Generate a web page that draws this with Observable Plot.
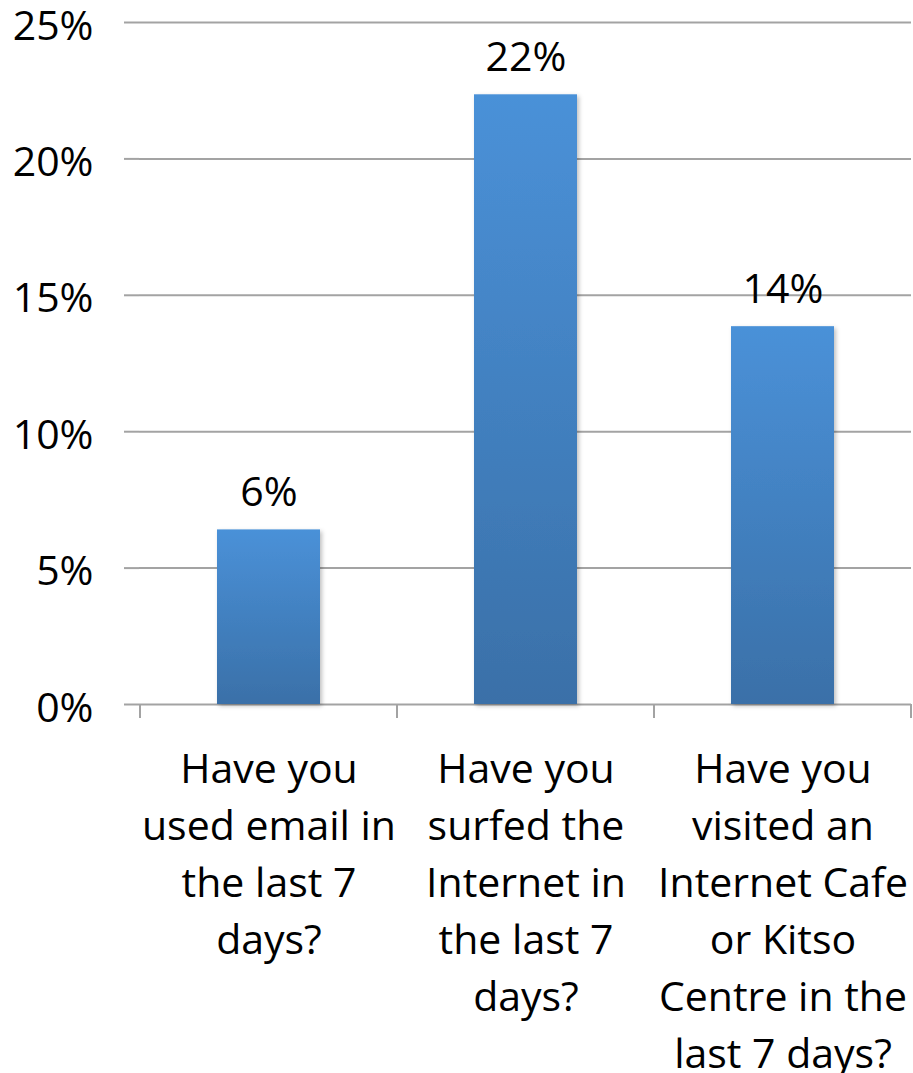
<!DOCTYPE html>
<html>
<head>
<meta charset="utf-8">
<script src="https://cdn.jsdelivr.net/npm/d3@7"></script>
<script src="https://cdn.jsdelivr.net/npm/@observablehq/plot@0.6"></script>
<style>
  html, body { margin: 0; padding: 0; background: #fff; }
  #chart { width: 913px; height: 1073px; }
</style>
</head>
<body>
<div id="chart"></div>
<script>
const categories = [
  "Have you used email in the last 7 days?",
  "Have you surfed the Internet in the last 7 days?",
  "Have you visited an Internet Cafe or Kitso Centre in the last 7 days?"
];
const tickLabels = [
  "Have you\nused email in\nthe last 7\ndays?",
  "Have you\nsurfed the\nInternet in\nthe last 7\ndays?",
  "Have you\nvisited an\nInternet Cafe\nor Kitso\nCentre in the\nlast 7 days?"
];
const values = [6.4, 22.35, 13.85];
const valueLabels = ["6%", "22%", "14%"];
const yTicks = [0, 5, 10, 15, 20, 25];

const data = categories.map((c, i) => ({category: c, value: values[i], label: valueLabels[i]}));

const GRID = "#a3a3a3";

const defs = () => {
  const d = d3.create("svg:defs");
  const g = d.append("linearGradient").attr("id", "barGrad").attr("x1", 0).attr("y1", 0).attr("x2", 0).attr("y2", 1);
  g.append("stop").attr("offset", "0%").attr("stop-color", "#4a91d8");
  g.append("stop").attr("offset", "100%").attr("stop-color", "#3a70a8");
  const f = d.append("filter").attr("id", "barShadow").attr("x", "-10%").attr("y", "-10%").attr("width", "130%").attr("height", "130%");
  f.append("feDropShadow").attr("dx", 2).attr("dy", 2).attr("stdDeviation", 2).attr("flood-color", "#000").attr("flood-opacity", 0.25);
  return d.node();
};

const bandTicks = (index, scales, values, dims) => {
  const x = scales.x;
  const bw = x.bandwidth ? x.bandwidth() : (dims.width - dims.marginLeft - dims.marginRight) / categories.length;
  const edges = categories.map(c => x(c)).concat([x(categories[categories.length - 1]) + bw]);
  const y0 = scales.y(0);
  const g = d3.create("svg:g").attr("stroke", GRID).attr("stroke-width", 2);
  g.selectAll("line").data(edges).join("line")
    .attr("x1", d => d).attr("x2", d => d)
    .attr("y1", y0).attr("y2", y0 + 14);
  return g.node();
};

const chart = Plot.plot({
  width: 913,
  height: 1073,
  marginTop: 22,
  marginLeft: 139,
  marginRight: 2,
  marginBottom: 369,
  style: {fontFamily: "'Open Sans', sans-serif", fontSize: "41px", background: "#fff", color: "#000"},
  x: {domain: categories, padding: 0, label: null},
  y: {domain: [0, 25], label: null},
  marks: [
    defs,
    Plot.gridY(yTicks, {stroke: GRID, strokeWidth: 2, strokeOpacity: 1}),
    Plot.axisY(yTicks, {
      tickFormat: () => "",
      tickSize: 15,
      stroke: GRID,
      strokeWidth: 2,
      label: null
    }),
    Plot.axisY(yTicks, {
      tickFormat: d => d + "%",
      tickSize: 0,
      tickPadding: 46,
      fontSize: 41,
      dy: 4,
      label: null
    }),
    Plot.ruleX([0], {frameAnchor: "left", y1: 0, y2: 25, stroke: GRID, strokeWidth: 2}),
    Plot.barY(data, {
      x: "category",
      y: "value",
      fill: "url(#barGrad)",
      insetLeft: 77,
      insetRight: 77
    }),
    bandTicks,
    Plot.text(data, {
      x: "category",
      y: "value",
      text: "label",
      lineAnchor: "bottom",
      dy: -24,
      fontSize: 41,
      fill: "#000"
    }),
    Plot.axisX({
      tickFormat: d => tickLabels[categories.indexOf(d)],
      tickSize: 0,
      tickPadding: 38,
      fontSize: 41,
      lineHeight: 1.39,
      label: null
    })
  ]
});
chart.querySelectorAll("rect").forEach(r => r.setAttribute("filter", "url(#barShadow)"));
document.getElementById("chart").appendChild(chart);
</script>
</body>
</html>
